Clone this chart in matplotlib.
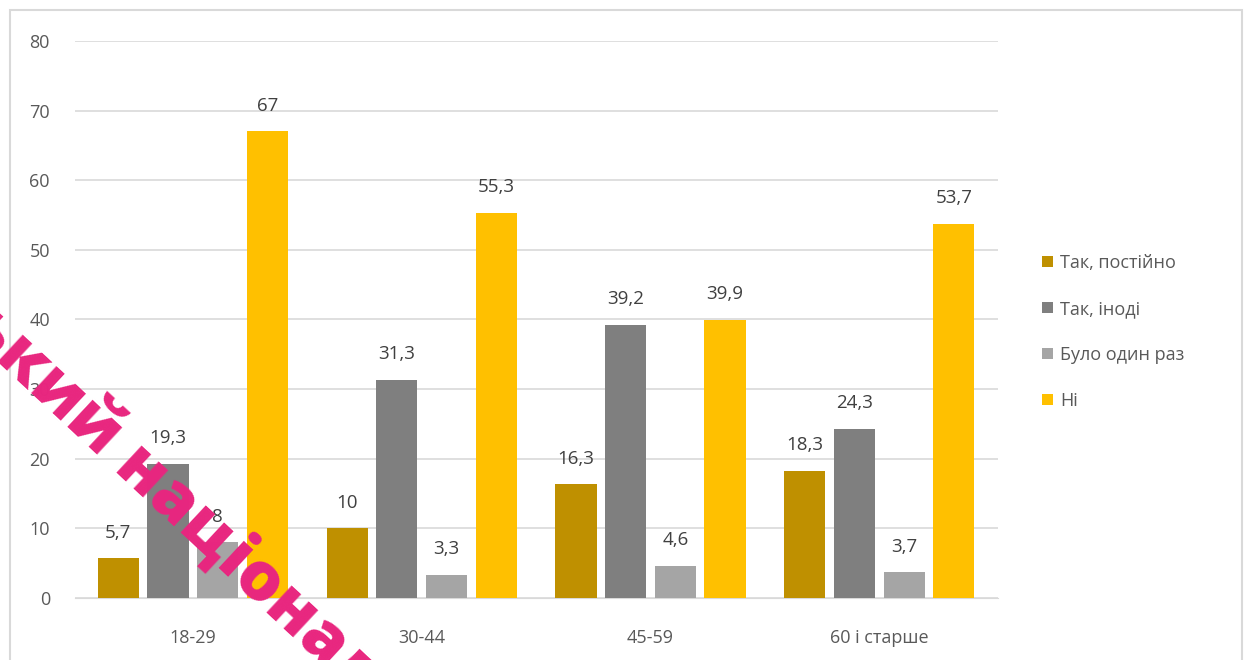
import matplotlib
matplotlib.use("Agg")
import matplotlib.pyplot as plt
import numpy as np

plt.rcParams['font.family'] = ['Open Sans', 'DejaVu Sans']

# data
categories = ['18-29', '30-44', '45-59', '60 і старше']
series_names = ['Так, постійно', 'Так, іноді', 'Було один раз', 'Ні']
postiyno = [5.7, 10, 16.3, 18.3]
inodi = [19.3, 31.3, 39.2, 24.3]
odyn_raz = [8, 3.3, 4.6, 3.7]
ni = [67, 55.3, 39.9, 53.7]
yticks = [0, 10, 20, 30, 40, 50, 60, 70, 80]

colors = ['#BF9000', '#7F7F7F', '#A5A5A5', '#FFC000']
label_color = '#595959'

fig = plt.figure(figsize=(12.48, 6.6), dpi=100)
ax = fig.add_axes([0.06, 0.094, 0.74, 0.844])

x = np.arange(len(categories))
step = 0.217
width = 0.18
all_series = [postiyno, inodi, odyn_raz, ni]
for i, vals in enumerate(all_series):
    pos = x + (i - 1.5) * step
    bars = ax.bar(pos, vals, width, color=colors[i], label=series_names[i], zorder=3)
    for b, v in zip(bars, vals):
        txt = ('%g' % v).replace('.', ',')
        ax.annotate(txt, (b.get_x() + b.get_width() / 2, v), xytext=(0, 12),
                    textcoords='offset points', ha='center', va='bottom',
                    fontsize=13.5, color='#404040')

ax.set_ylim(0, 80)
ax.set_xlim(-0.515, 3.52)
ax.set_yticks(yticks)
ax.set_xticks(x)
ax.set_xticklabels(categories)
ax.tick_params(axis='both', length=0, labelsize=13, colors=label_color)
ax.tick_params(axis='x', pad=22)
ax.tick_params(axis='y', pad=18)
ax.grid(axis='y', color='#D9D9D9', linewidth=1.2, zorder=0)
for s in ax.spines.values():
    s.set_visible(False)
ax.spines['bottom'].set_visible(True)
ax.spines['bottom'].set_color('#D9D9D9')

leg = fig.legend(loc='center left', bbox_to_anchor=(0.822, 0.497), frameon=False,
                 fontsize=13, handlelength=0.6, handleheight=0.6, handletextpad=0.4,
                 labelspacing=1.55)
for t in leg.get_texts():
    t.set_color(label_color)

# chart border
fig.patches.append(plt.Rectangle((10 / 1248, -0.01), 1232 / 1248, 1 - 10 / 660 + 0.01,
                                 transform=fig.transFigure, fill=False,
                                 edgecolor='#D9D9D9', linewidth=1.5))

# watermark
fig.text(-62 / 1248, 1 - 306 / 660, 'ський національний', rotation=-43,
         rotation_mode='anchor', ha='left', va='baseline', fontsize=49,
         fontweight='heavy', color='#E8267F', family=['Open Sans', 'DejaVu Sans'],
         zorder=10)

fig.savefig('out.png', dpi=100)
